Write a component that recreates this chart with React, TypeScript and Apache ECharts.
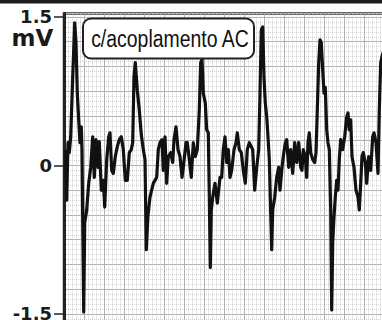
import React, { useEffect, useRef } from "react";
import * as echarts from "echarts";

// time in seconds, amplitude in mV
const timeS = [
  0.015, 0.027, 0.04, 0.053, 0.067, 0.087, 0.107, 0.12, 0.133, 0.147, 0.16, 0.173, 0.18, 0.187, 0.197, 0.207,
  0.227, 0.247, 0.267, 0.287, 0.303, 0.32, 0.34, 0.353, 0.373, 0.393, 0.407, 0.427, 0.447, 0.46, 0.477, 0.493,
  0.513, 0.533, 0.553, 0.573, 0.593, 0.613, 0.633, 0.653, 0.673, 0.687, 0.7, 0.713,
  0.733, 0.753, 0.773, 0.793, 0.81, 0.823, 0.84, 0.86, 0.893, 0.927, 0.943, 0.96, 0.98, 0.993, 1.01, 1.027,
  1.043, 1.067, 1.087, 1.1, 1.12, 1.14, 1.16, 1.18, 1.193, 1.22, 1.233, 1.253, 1.273, 1.293, 1.313, 1.333,
  1.353, 1.367, 1.38, 1.393, 1.413, 1.427, 1.443, 1.453, 1.463, 1.473, 1.487, 1.51, 1.533, 1.56,
  1.577, 1.593, 1.61, 1.627, 1.643, 1.66, 1.677, 1.7, 1.72, 1.733, 1.753, 1.773, 1.793, 1.813, 1.833, 1.853,
  1.873, 1.887, 1.907, 1.927, 1.947, 1.96, 1.973, 1.987, 2.0, 2.013, 2.027, 2.04, 2.053, 2.067, 2.077, 2.087,
  2.107, 2.127, 2.147, 2.16, 2.18, 2.193, 2.213, 2.227, 2.247, 2.267, 2.287, 2.307, 2.327, 2.347, 2.367,
  2.38, 2.393, 2.413, 2.427, 2.44, 2.453, 2.467, 2.487, 2.507, 2.52, 2.533, 2.547, 2.56, 2.573, 2.587, 2.6,
  2.613, 2.627, 2.64, 2.653, 2.667, 2.677, 2.687, 2.7, 2.713, 2.727, 2.74, 2.753, 2.767, 2.787, 2.807, 2.827,
  2.84, 2.853, 2.867, 2.88, 2.9, 2.92, 2.94, 2.953, 2.967, 2.98, 2.993, 3.013, 3.027, 3.047, 3.067, 3.087,
  3.1, 3.12, 3.14, 3.153, 3.167, 3.18, 3.2,
];
const voltageMV = [
  0.16, -0.35, 0.23, 0.13, 0.29, 0.89, 1.44, 1.24, 0.73, 0.46, 0.23, 0.39, 0.16, -0.55, -1.48, -0.58,
  -0.45, -0.18, -0.02, 0.29, -0.12, 0.26, -0.02, 0.24, -0.25, -0.15, -0.42, 0.06, 0.29, 0.33, -0.05, -0.08,
  0.09, 0.19, 0.26, 0.29, 0.16, -0.15, -0.15, 0.13, 0.16, 0.23, 0.89, 1.04,
  0.76, 0.56, 0.31, 0.16, 0.06, -0.85, -0.5, -0.32, -0.18, -0.12, 0.16, 0.23, 0.26, -0.05, 0.29, -0.18,
  0.09, 0.13, 0.03, 0.26, 0.39, 0.16, 0.09, -0.12, -0.02, 0.23, 0.23, 0.06, -0.12, 0.23, 0.09, 0.16,
  0.56, 1.04, 1.07, 0.73, 0.63, 0.36, 0.33, -0.32, -1.03, -0.45, -0.32, -0.18, -0.38, -0.12,
  -0.12, 0.16, 0.29, 0.03, 0.16, -0.12, -0.05, 0.16, 0.23, 0.33, 0.16, 0.13, -0.05, -0.18, 0.16, 0.23,
  0.19, 0.16, -0.25, -0.02, 0.16, 0.73, 1.37, 1.4, 0.89, 0.63, 0.49, 0.29, 0.06, -0.48, -0.85, -0.45,
  -0.32, -0.12, -0.02, -0.25, -0.02, 0.09, 0.23, 0.26, -0.02, 0.16, -0.08, 0.23, 0.03, 0.23, -0.02,
  -0.05, 0.16, 0.09, -0.12, 0.23, 0.33, 0.13, 0.06, 0.03, 0.13, 0.56, 1.04, 1.27, 1.24, 0.96, 0.73,
  0.79, 0.36, 0.23, 0.16, -0.45, -1.46, -0.78, -0.52, -0.32, -0.15, -0.25, 0.06, 0.26, 0.16, 0.29, 0.49,
  0.53, 0.36, 0.46, 0.09, -0.02, -0.25, -0.32, -0.45, -0.18, 0.09, 0.13, 0.03, -0.18, 0.09, -0.05, 0.29,
  0.33, 0.23, -0.08, 0.56, 1.04, 1.1, 1.17,
];
const yTickValues = [-1.5, 0, 1.5];
const unitLabel = "mV";
const boxLabel = "c/acoplamento AC";

const X_MIN = 0;
const X_MAX = 3.28;
const Y_MIN = -1.75;
const Y_MAX = 1.535;

export default function App() {
  const ref = useRef<HTMLDivElement>(null);
  useEffect(() => {
    if (!ref.current) return;
    const chart = echarts.init(ref.current, null, { renderer: "svg" });
    const data = timeS.map((t, i) => [t, voltageMV[i]]);
    chart.setOption({
      animation: false,
      backgroundColor: "#fff",
      grid: {
        left: 64,
        top: 13.5,
        right: 8,
        bottom: 6.3,
        show: true,
        backgroundColor: "#fff",
        borderColor: "#2e2e2e",
        borderWidth: 2.5,
      },
      xAxis: [
        {
          type: "value",
          min: X_MIN,
          max: X_MAX,
          show: false,
        },
        {
          type: "value",
          min: X_MIN,
          max: X_MAX,
          interval: 0.2,
          axisLine: { show: false },
          axisTick: { show: false },
          axisLabel: { show: false },
          splitLine: { show: true, lineStyle: { color: "#b0b0b0", width: 1 } },
          minorTick: { show: false, splitNumber: 5 },
          minorSplitLine: { show: true, lineStyle: { color: "#cdcdcd", width: 1, type: "dotted" } },
        },
      ],
      yAxis: [
        {
          type: "value",
          min: Y_MIN,
          max: Y_MAX,
          axisLine: { show: true, lineStyle: { color: "#222", width: 3 } },
          axisTick: {
            show: true,
            length: 10,
            customValues: yTickValues,
            lineStyle: { color: "#222", width: 1.5 },
          },
          axisLabel: {
            show: true,
            customValues: yTickValues,
            margin: 12,
            fontFamily: "DejaVu Sans",
            fontWeight: "bold",
            fontSize: 18,
            lineHeight: 14,
            color: "#1a1a1a",
            formatter: (v: number) => String(v),
          },
          splitLine: { show: false },
        },
        {
          type: "value",
          min: Y_MIN,
          max: Y_MAX,
          interval: 0.25,
          axisLine: { show: false },
          axisTick: { show: false },
          axisLabel: { show: false },
          splitLine: { show: true, lineStyle: { color: "#b0b0b0", width: 1 } },
          minorTick: { show: false, splitNumber: 5 },
          minorSplitLine: { show: true, lineStyle: { color: "#cdcdcd", width: 1, type: "dotted" } },
        },
      ],
      series: [
        {
          type: "line",
          xAxisIndex: 0,
          yAxisIndex: 0,
          data,
          showSymbol: false,
          symbol: "none",
          lineStyle: { color: "#111", width: 3.2, join: "round" },
          z: 5,
        },
      ],
      graphic: [
        { type: "rect", shape: { x: 0, y: 0, width: 400, height: 3.5 }, style: { fill: "#1c1c1c" }, z: 10 },
        {
          type: "text",
          x: 32.5,
          y: 37.5,
          style: {
            text: unitLabel,
            fontFamily: "DejaVu Sans",
            fontWeight: "bold",
            fontSize: 23,
            lineHeight: 19,
            fill: "#1a1a1a",
            textAlign: "center",
            textVerticalAlign: "middle",
          },
          z: 10,
        },
        {
          type: "rect",
          shape: { x: 83, y: 18.5, width: 171, height: 40, r: 8 },
          style: { fill: "#fff", stroke: "#222", lineWidth: 2 },
          z: 10,
        },
        {
          type: "text",
          x: 170,
          y: 39,
          scaleX: 0.81,
          style: {
            text: boxLabel,
            fontFamily: "'Liberation Sans', Arial, sans-serif",
            fontSize: 24,
            fill: "#111",
            textAlign: "center",
            textVerticalAlign: "middle",
          },
          z: 11,
        },
      ],
    });
    return () => chart.dispose();
  }, []);
  return (
    <div
      ref={ref}
      style={{ position: "fixed", left: 0, top: 0, width: 400, height: 345 }}
    />
  );
}
